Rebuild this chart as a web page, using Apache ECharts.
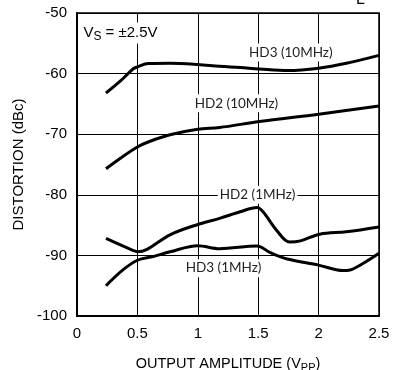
<!DOCTYPE html>
<html><head><meta charset="utf-8">
<script src="https://cdn.jsdelivr.net/npm/echarts@6/dist/echarts.min.js"></script>
<style>html,body{margin:0;padding:0;background:#fff}#c{width:394px;height:370px}</style>
</head><body><div id="c"></div>
<script>
var xTicks = [0, 0.5, 1, 1.5, 2, 2.5];
var yTicks = [-100, -90, -80, -70, -60, -50];

var hd3_10M = [[0.24,-63.2],[0.36,-61.2],[0.466,-59.2],[0.5,-58.9],[0.59,-58.35],[0.77,-58.3],[1.0,-58.5],[1.18,-58.8],[1.35,-59.0],[1.51,-59.25],[1.75,-59.5],[2.0,-59.1],[2.23,-58.3],[2.5,-57.0]];
var hd2_10M = [[0.24,-75.7],[0.356,-74.0],[0.5,-72.1],[0.6,-71.2],[0.77,-70.1],[1.0,-69.2],[1.18,-68.9],[1.51,-67.9],[2.0,-66.7],[2.5,-65.35]];
var hd2_1M = [[0.24,-87.2],[0.466,-89.2],[0.5,-89.4],[0.58,-89.0],[0.77,-86.6],[1.0,-84.9],[1.18,-83.9],[1.35,-82.8],[1.49,-82.1],[1.54,-82.8],[1.65,-85.8],[1.76,-87.8],[1.85,-87.6],[2.01,-86.5],[2.23,-86.1],[2.5,-85.3]];
var hd3_1M = [[0.24,-95.0],[0.38,-92.4],[0.5,-90.8],[0.63,-90.2],[0.77,-89.4],[1.0,-88.4],[1.18,-88.9],[1.49,-88.45],[1.6,-89.55],[1.74,-90.6],[2.0,-91.6],[2.2,-92.5],[2.26,-92.4],[2.37,-91.3],[2.5,-89.65]];

var labels = [
  {text:'HD3 (10MHz)', x:1.77, y:-56.5},
  {text:'HD2 (10MHz)', x:1.32, y:-64.9},
  {text:'HD2 (1MHz)',  x:1.495, y:-80.0},
  {text:'HD3 (1MHz)',  x:1.213, y:-92.1}
];

var FONT = 'Liberation Sans';
var chart = echarts.init(document.getElementById('c'), null, {renderer:'canvas'});
function line(d){
  return {type:'line', data:d, smooth:0.35, showSymbol:false, symbol:'none',
    lineStyle:{color:'#000', width:3}, z:5, animation:false};
}
chart.setOption({
  animation:false,
  backgroundColor:'#fff',
  grid:{left:77, right:15, top:13, height:303, show:false, containLabel:false, outerBoundsMode:'none'},
  xAxis:{type:'value', min:0, max:2.5, interval:0.5,
    axisLine:{show:true, onZero:false, lineStyle:{color:'#000', width:2}},
    axisTick:{show:false},
    minorTick:{show:false},
    axisLabel:{color:'#000', fontFamily:FONT, fontSize:15, margin:10,
      formatter:function(v){return String(v);}},
    splitLine:{show:true, lineStyle:{color:'#000', width:1}},
    name:'{a|OUTPUT AMPLITUDE (V}{b|PP}{a|)}', nameLocation:'middle', nameGap:39,
    nameTextStyle:{rich:{a:{fontFamily:FONT, fontSize:14.5, color:'#000'},
      b:{fontFamily:FONT, fontSize:11, color:'#000', padding:[7,0,0,0]}}}
  },
  yAxis:{type:'value', min:-100, max:-50, interval:10,
    axisLine:{show:true, onZero:false, lineStyle:{color:'#000', width:2}},
    axisTick:{show:false},
    minorTick:{show:false},
    axisLabel:{color:'#000', fontFamily:FONT, fontSize:15, margin:10, formatter:function(v){return String(v);}},
    splitLine:{show:true, lineStyle:{color:'#000', width:1}},
    name:'DISTORTION (dBc)', nameLocation:'middle', nameGap:50,
    nameTextStyle:{fontFamily:FONT, fontSize:15, color:'#000'}
  },
  series:[line(hd3_10M), line(hd2_10M), line(hd2_1M), line(hd3_1M)]
});

var g = [];
g.push({type:'rect', shape:{x:77, y:13, width:302, height:303}, style:{fill:'none', stroke:'#000', lineWidth:1.5}, z:3, silent:true});
labels.forEach(function(l){
  var p = chart.convertToPixel({gridIndex:0}, [l.x, l.y]);
  g.push({type:'text', x:p[0], y:p[1], z:10, style:{text:l.text, fontFamily:'Lato', fontSize:13.5, fill:'#222',
    align:'center', verticalAlign:'middle', backgroundColor:'#fff', padding:[2,2,2,2]}});
});
var vp = chart.convertToPixel({gridIndex:0}, [0.045, -53.3]);
g.push({type:'text', x:vp[0], y:vp[1], z:10, style:{
  text:'{a|V}{b|S}{a| = ±2.5V}', align:'left', verticalAlign:'middle', backgroundColor:'#fff', padding:[1,1,1,1],
  rich:{a:{fontFamily:FONT, fontSize:15, fill:'#000'}, b:{fontFamily:FONT, fontSize:12, fill:'#000', padding:[7,0,0,0]}}}});
g.push({type:'text', x:356, y:-8, z:10, style:{text:'L', fontFamily:FONT, fontSize:16, fill:'#000', verticalAlign:'top'}});
chart.setOption({graphic:g});
</script></body></html>
